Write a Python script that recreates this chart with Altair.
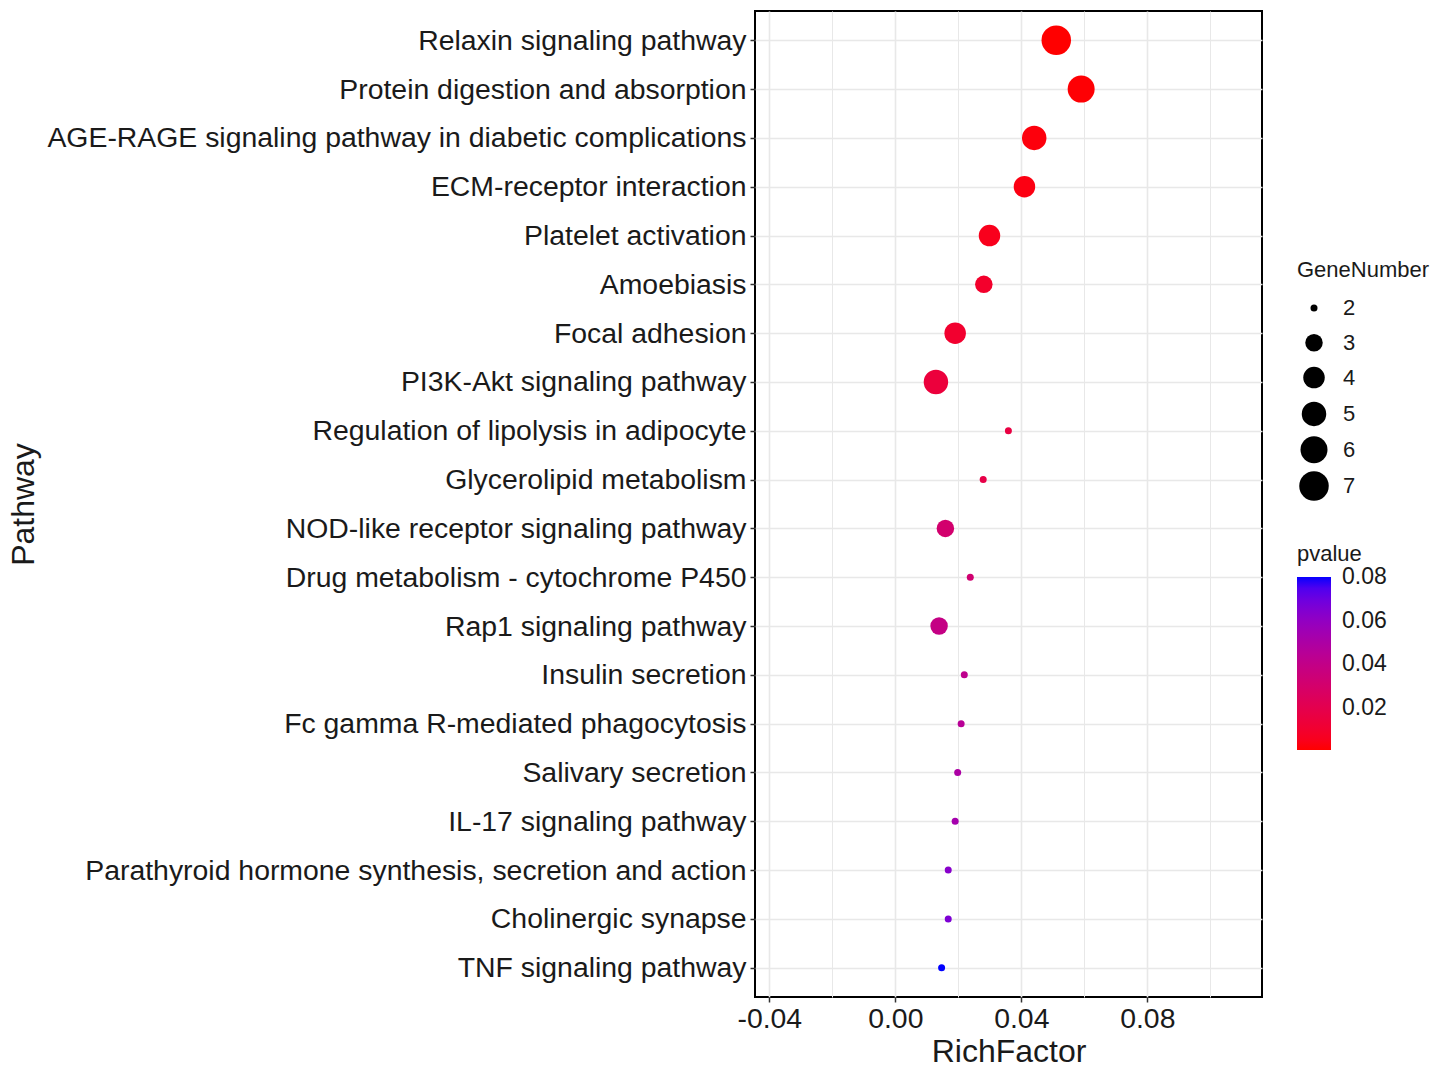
import altair as alt
import pandas as pd

pathways = [
    "Relaxin signaling pathway",
    "Protein digestion and absorption",
    "AGE-RAGE signaling pathway in diabetic complications",
    "ECM-receptor interaction",
    "Platelet activation",
    "Amoebiasis",
    "Focal adhesion",
    "PI3K-Akt signaling pathway",
    "Regulation of lipolysis in adipocyte",
    "Glycerolipid metabolism",
    "NOD-like receptor signaling pathway",
    "Drug metabolism - cytochrome P450",
    "Rap1 signaling pathway",
    "Insulin secretion",
    "Fc gamma R-mediated phagocytosis",
    "Salivary secretion",
    "IL-17 signaling pathway",
    "Parathyroid hormone synthesis, secretion and action",
    "Cholinergic synapse",
    "TNF signaling pathway",
]
rich_factor = [0.0511, 0.0590, 0.0441, 0.0410, 0.0299, 0.0281, 0.0190, 0.0129,
               0.0359, 0.0279, 0.0159, 0.0238, 0.0139, 0.0219, 0.0209, 0.0198,
               0.0190, 0.0168, 0.0168, 0.0147]
gene_number = [7, 6, 5, 4, 4, 3, 4, 5, 2, 2, 3, 2, 3, 2, 2, 2, 2, 2, 2, 2]
pvalue = [0.0005, 0.001, 0.002, 0.003, 0.005, 0.009, 0.010, 0.014,
          0.016, 0.018, 0.031, 0.032, 0.039, 0.042, 0.045, 0.050,
          0.053, 0.063, 0.066, 0.0802]

x_grid_values = [-0.04, -0.02, 0.0, 0.02, 0.04, 0.06, 0.08, 0.10]
size_levels = [2, 3, 4, 5, 6, 7]
size_squares = [49, 306, 462, 600, 729, 870]
pvalue_ticks = [0.02, 0.04, 0.06, 0.08]

df = pd.DataFrame({
    "Pathway": pathways,
    "RichFactor": rich_factor,
    "GeneNumber": gene_number,
    "pvalue": pvalue,
})

FONT = "Liberation Sans"
minor_test = "abs(round(datum.value * 50) % 2) == 1"

chart = alt.Chart(df).mark_circle(opacity=1, strokeWidth=0).encode(
    x=alt.X(
        "RichFactor:Q",
        scale=alt.Scale(domain=[-0.04454, 0.11641], nice=False, zero=False),
        axis=alt.Axis(
            values=x_grid_values,
            labelExpr=minor_test + " ? '' : replace(format(datum.value, '.2f'), '\u2212', '-')",
            tickColor={"condition": {"test": minor_test, "value": "transparent"}, "value": "#333333"},
            gridWidth={"condition": {"test": minor_test, "value": 1.0}, "value": 1.6},
            gridColor="#E8E8E8",
            tickSize=5,
            tickWidth=1.5,
            labelPadding=3,
            labelFontSize=28.4,
            labelColor="#1A1A1A",
            labelFont=FONT,
            domain=False,
            title="RichFactor",
            titleFontSize=32,
            titleFontWeight="normal",
            titleFont=FONT,
            titleColor="#1A1A1A",
            titlePadding=4,
            labelOverlap=False,
        ),
    ),
    y=alt.Y(
        "Pathway:N",
        sort=pathways,
        scale=alt.Scale(type="point", padding=0.6),
        axis=alt.Axis(
            title="Pathway",
            titleFontSize=32,
            titleFontWeight="normal",
            titleFont=FONT,
            titleColor="#1A1A1A",
            titleX=-722,
            titleY=493,
            titleAngle=270,
            titleAlign="center",
            titleBaseline="alphabetic",
            labelFontSize=28.4,
            labelFont=FONT,
            labelColor="#1A1A1A",
            labelLimit=1200,
            labelPadding=4,
            tickSize=5,
            tickWidth=1.5,
            tickColor="#333333",
            domain=False,
            grid=True,
            gridColor="#E8E8E8",
            gridWidth=1.6,
        ),
    ),
    size=alt.Size(
        "GeneNumber:Q",
        scale=alt.Scale(domain=size_levels, range=size_squares),
        legend=alt.Legend(
            title="GeneNumber",
            values=size_levels,
            orient="none",
            legendX=542,
            legendY=249,
            padding=0,
            titleFontSize=22,
            titleFontWeight="normal",
            titleFont=FONT,
            titleColor="#1A1A1A",
            titlePadding=15,
            labelFontSize=22,
            labelFont=FONT,
            labelColor="#1A1A1A",
            labelOffset=14,
            symbolType="circle",
            symbolFillColor="black",
            symbolStrokeColor="black",
            symbolStrokeWidth=0,
            symbolOpacity=1,
            symbolOffset=2,
            gridAlign="all",
            rowPadding=4.8,
        ),
    ),
    color=alt.Color(
        "pvalue:Q",
        scale=alt.Scale(domain=[0.0005, 0.0802], range=["#FF0000", "#0000FF"], interpolate="lab"),
        legend=alt.Legend(
            title="pvalue",
            orient="none",
            legendX=542,
            legendY=533,
            padding=0,
            direction="vertical",
            values=pvalue_ticks,
            format=".2f",
            gradientLength=173,
            gradientThickness=34,
            gradientStrokeWidth=0,
            titleFontSize=22,
            titleFontWeight="normal",
            titleFont=FONT,
            titleColor="#1A1A1A",
            titlePadding=11,
            labelFontSize=23,
            labelFont=FONT,
            labelColor="#1A1A1A",
            labelOffset=11,
            labelOverlap=False,
        ),
    ),
).properties(
    width=507,
    height=986,
    autosize=alt.AutoSizeParams(type="none"),
    padding={"left": 755, "top": 11, "right": 185, "bottom": 74},
).configure(
    background="white",
    font=FONT,
).configure_view(
    stroke="black",
    strokeWidth=2,
)

chart.save("out.html", embed_options={"renderer": "svg", "actions": False})
